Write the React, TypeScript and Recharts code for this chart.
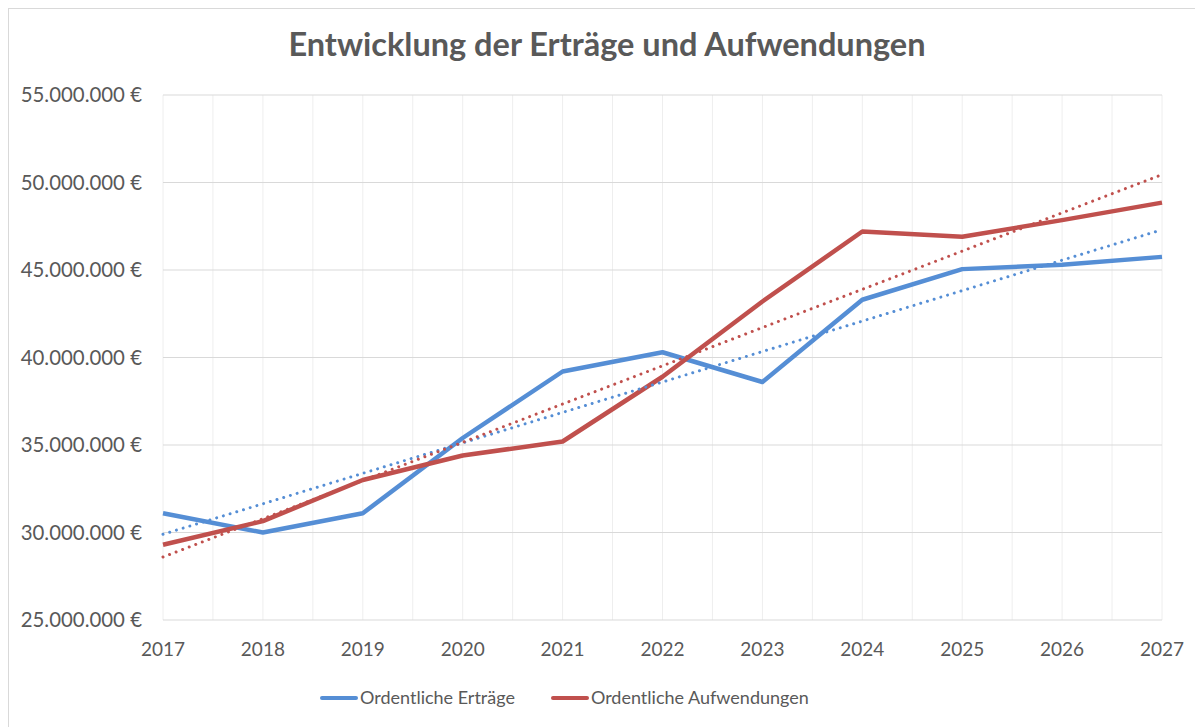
import React from 'react';
import { LineChart, Line, XAxis, YAxis, CartesianGrid } from 'recharts';

const years = [2017, 2018, 2019, 2020, 2021, 2022, 2023, 2024, 2025, 2026, 2027];
const ertraege = [31.1, 30.0, 31.1, 35.4, 39.2, 40.3, 38.6, 43.3, 45.05, 45.3, 45.75];
const aufwendungen = [29.3, 30.65, 33.0, 34.4, 35.2, 38.9, 43.2, 47.2, 46.9, 47.85, 48.85];
// trendline end values (start, end), in millions
const trendErtraege = [29.9, 47.3];
const trendAufwendungen = [28.6, 50.45];
const yTicks = [25, 30, 35, 40, 45, 50, 55];

const seriesNames = ['Ordentliche Erträge', 'Ordentliche Aufwendungen'];
const BLUE = '#558ED5';
const RED = '#C0504D';
const TEXT = '#595959';
const FONT = 'Lato, "Open Sans", sans-serif';

const data = years.map((year, i) => ({
  year,
  ertraege: ertraege[i] * 1e6,
  aufwendungen: aufwendungen[i] * 1e6,
  trendE: i === 0 ? trendErtraege[0] * 1e6 : i === years.length - 1 ? trendErtraege[1] * 1e6 : null,
  trendA: i === 0 ? trendAufwendungen[0] * 1e6 : i === years.length - 1 ? trendAufwendungen[1] * 1e6 : null,
}));

const xTicks = years.flatMap((y, i) => (i < years.length - 1 ? [y, y + 0.5] : [y]));

const fmtEuro = (v: number) =>
  String(Math.round(v)).replace(/\B(?=(\d{3})+(?!\d))/g, '.') + ' €';

export default function App() {
  return (
    <div style={{ position: 'relative', width: 1195, height: 719, fontFamily: FONT }}>
      <div
        style={{
          position: 'absolute',
          left: 0,
          top: 0,
          width: 1220,
          height: 740,
          borderTop: '1px solid #d9d9d9',
          borderLeft: '1px solid #d9d9d9',
        }}
      />
      <div
        style={{
          position: 'absolute',
          left: 0,
          top: 16,
          width: 1198,
          textAlign: 'center',
          fontSize: 32.5,
          fontWeight: 700,
          lineHeight: 1.2,
          color: TEXT,
        }}
      >
        Entwicklung der Erträge und Aufwendungen
      </div>
      <div style={{ position: 'absolute', left: 0, top: 0 }}>
        <LineChart
          width={1195}
          height={719}
          data={data}
          margin={{ top: 87, right: 41, left: 0, bottom: 67 }}
        >
          <CartesianGrid horizontal={false} vertical={true} stroke="#eeeeee" strokeWidth={1} />
          <CartesianGrid horizontal={true} vertical={false} stroke="#d9d9d9" strokeWidth={1} />
          <XAxis
            dataKey="year"
            type="number"
            domain={[2017, 2027]}
            ticks={xTicks}
            interval={0}
            tickFormatter={(v: number) => (Number.isInteger(v) ? String(v) : '')}
            axisLine={false}
            tickLine={false}
            tickSize={0}
            tickMargin={23}
            height={40}
            tick={{ fill: TEXT, fontSize: 19, fontFamily: FONT }}
          />
          <YAxis
            type="number"
            domain={[25e6, 55e6]}
            ticks={yTicks.map((t) => t * 1e6)}
            tickFormatter={fmtEuro}
            axisLine={false}
            tickLine={false}
            tickSize={0}
            tickMargin={21}
            width={155}
            interval={0}
            tick={{ fill: TEXT, fontSize: 20.4, fontFamily: FONT }}
          />
          <Line
            dataKey="ertraege"
            stroke={BLUE}
            strokeWidth={4.5}
            dot={false}
            activeDot={false}
            isAnimationActive={false}
            strokeLinejoin="round"
          />
          <Line
            dataKey="aufwendungen"
            stroke={RED}
            strokeWidth={4.5}
            dot={false}
            activeDot={false}
            isAnimationActive={false}
            strokeLinejoin="round"
          />
          <Line
            dataKey="trendE"
            stroke={BLUE}
            strokeWidth={3}
            strokeDasharray="0.01 7"
            strokeLinecap="round"
            connectNulls
            dot={false}
            activeDot={false}
            isAnimationActive={false}
          />
          <Line
            dataKey="trendA"
            stroke={RED}
            strokeWidth={3}
            strokeDasharray="0.01 7"
            strokeLinecap="round"
            connectNulls
            dot={false}
            activeDot={false}
            isAnimationActive={false}
          />
        </LineChart>
      </div>
      <div
        style={{
          position: 'absolute',
          left: 312,
          top: 679,
          display: 'flex',
          alignItems: 'center',
          fontSize: 18,
          lineHeight: 1.2,
          color: TEXT,
          whiteSpace: 'nowrap',
        }}
      >
        {seriesNames.map((name, i) => (
          <div key={name} style={{ display: 'flex', alignItems: 'center', marginRight: i === 0 ? 36 : 0 }}>
            <div
              style={{
                width: 38,
                height: 4,
                borderRadius: 2,
                background: i === 0 ? BLUE : RED,
                marginRight: 2,
              }}
            />
            <span>{name}</span>
          </div>
        ))}
      </div>
    </div>
  );
}
